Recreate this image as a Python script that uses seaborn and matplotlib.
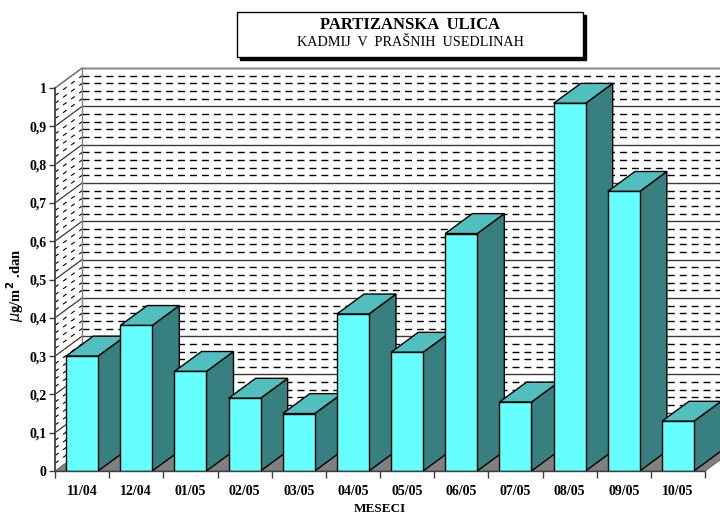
import matplotlib
matplotlib.use("Agg")
import matplotlib.pyplot as plt
from matplotlib.patches import Polygon, Rectangle
import numpy as np
import pandas as pd
import seaborn as sns

# Monthly cadmium in dust deposits, Partizanska ulica
months = ["11/04", "12/04", "01/05", "02/05", "03/05", "04/05",
          "05/05", "06/05", "07/05", "08/05", "09/05", "10/05"]
cadmium = [0.30, 0.38, 0.26, 0.19, 0.15, 0.41,
           0.31, 0.62, 0.18, 0.96, 0.73, 0.13]
y_ticks = [0.0, 0.1, 0.2, 0.3, 0.4, 0.5, 0.6, 0.7, 0.8, 0.9, 1.0]
y_tick_labels = ["0", "0,1", "0,2", "0,3", "0,4", "0,5",
                 "0,6", "0,7", "0,8", "0,9", "1"]

sns.set_theme(style="white")
plt.rcParams["font.family"] = ["Liberation Serif", "DejaVu Serif"]
plt.rcParams.update({"text.color": "black", "axes.labelcolor": "black",
                     "xtick.color": "black", "ytick.color": "black"})

FRONT = "#66FFFF"
TOP = "#52BFBF"
SIDE = "#388080"
FLOOR = "#808080"

W, H = 720, 517
fig = plt.figure(figsize=(W / 100, H / 100), dpi=100)
ymax = 1.07
ax = fig.add_axes([55 / W, 46 / H, 665 / W, ymax * 383 / H])

df = pd.DataFrame({"mesec": months, "kadmij": cadmium})
sns.barplot(data=df, x="mesec", y="kadmij", order=months, color=FRONT,
            width=0.59, edgecolor="black", linewidth=1.0, saturation=1,
            ax=ax)

xmax = 11.776
ax.set_xlim(-0.5, xmax)
ax.set_ylim(0, ymax)

# depth offset of the 3-D box (data units)
ddx, ddy = 0.5, 0.052
n = len(months)

# back wall and side wall gridlines: solid majors, dashed minors
for k in range(1, 51):
    v = k * 0.02
    if k % 5 == 0:
        ax.plot([0, xmax], [v + ddy, v + ddy], color="#3a3a3a", lw=1.0,
                zorder=0.6, solid_capstyle="butt")
        ax.plot([-0.5, 0], [v, v + ddy], color="#3a3a3a", lw=0.9, zorder=0.6)
    else:
        ax.plot([0, xmax], [v + ddy, v + ddy], color="black", lw=1.0,
                dashes=(5, 3.6), zorder=0.5)
        ax.plot([-0.5, 0], [v, v + ddy], color="black", lw=0.8,
                dashes=(4, 5), zorder=0.5)
# wall edges
ax.plot([0, 0], [ddy, 1 + ddy], color="#808080", lw=1.0, zorder=0.7)
ax.plot([-0.5, 0], [1, 1 + ddy], color="#808080", lw=1.0, zorder=0.7)
ax.plot([0, xmax], [1 + ddy, 1 + ddy], color="#808080", lw=1.0, zorder=0.7)

# floor
ax.add_patch(Polygon([(-0.5, 0), (n - 0.5, 0), (n, ddy), (0, ddy)],
                     closed=True, facecolor=FLOOR, edgecolor="#555555",
                     lw=0.6, zorder=1.0))

# bars: front face from seaborn, top and side faces added per bar
for i, p in enumerate(ax.patches[:n]):
    x0 = p.get_x()
    x1 = x0 + p.get_width()
    h = p.get_height()
    p.set_zorder(3 + 2 * i)
    top = Polygon([(x0, h), (x1, h), (x1 + ddx, h + ddy), (x0 + ddx, h + ddy)],
                  closed=True, facecolor=TOP, edgecolor="black", lw=1.0,
                  zorder=2 + 2 * i)
    side = Polygon([(x1, 0), (x1 + ddx, ddy), (x1 + ddx, h + ddy), (x1, h)],
                   closed=True, facecolor=SIDE, edgecolor="black", lw=1.0,
                   zorder=2 + 2 * i)
    ax.add_patch(side)
    ax.add_patch(top)

# axes frame
for s in ["top", "right"]:
    ax.spines[s].set_visible(False)
ax.spines["left"].set_bounds(0, 1)
ax.spines["left"].set_color("#404040")
ax.spines["left"].set_linewidth(1.3)
ax.spines["bottom"].set_bounds(-0.5, n - 0.5)
ax.spines["bottom"].set_color("#404040")
ax.spines["bottom"].set_linewidth(1.0)
ax.spines["left"].set_zorder(50)
ax.spines["bottom"].set_zorder(50)

ax.set_yticks(y_ticks)
ax.set_yticklabels(y_tick_labels, fontsize=10, fontweight="bold")
ax.set_xticks(range(n))
ax.set_xticklabels(months, fontsize=10, fontweight="bold")
ax.set_xticks(np.arange(-0.5, n, 1.0), minor=True)
ax.tick_params(axis="y", which="major", direction="out", length=4, width=1,
               color="#404040", labelcolor="black", pad=2, left=True)
ax.tick_params(axis="x", which="major", length=0, pad=10, labelcolor="black")
ax.tick_params(axis="x", which="minor", direction="out", length=5, width=1,
               color="#404040", bottom=True)
ax.grid(False)
ax.set_facecolor("none")

ax.set_xlabel("")
ax.set_ylabel("")
fig.text(380 / W, 1 - 509 / H, "MESECI", ha="center", va="center",
         fontsize=9.5, fontweight="bold", color="black")
fig.text(15 / W, 1 - 285 / H, "$\\mathit{μ}$g/m$^{\\mathbf{2}}$ .dan",
         rotation=90, ha="center", va="center", fontsize=10.5,
         fontweight="bold", color="black")

# title box with drop shadow
bx, by, bw, bh = 237, 12, 346, 45
fig.patches.append(Rectangle(((bx + 3) / W, 1 - (by + bh + 3) / H), bw / W, bh / H,
                             transform=fig.transFigure, facecolor="black",
                             edgecolor="black", zorder=1))
fig.patches.append(Rectangle((bx / W, 1 - (by + bh) / H), bw / W, bh / H,
                             transform=fig.transFigure, facecolor="white",
                             edgecolor="black", lw=1.0, zorder=2))
fig.text((bx + bw / 2) / W, 1 - 25 / H, "PARTIZANSKA  ULICA", ha="center",
         va="center", fontsize=12, fontweight="bold", color="black", zorder=3)
fig.text((bx + bw / 2) / W, 1 - 43 / H, "KADMIJ  V  PRAŠNIH  USEDLINAH",
         ha="center", va="center", fontsize=10.2, color="black", zorder=3)

fig.savefig("out.png", dpi=100)
